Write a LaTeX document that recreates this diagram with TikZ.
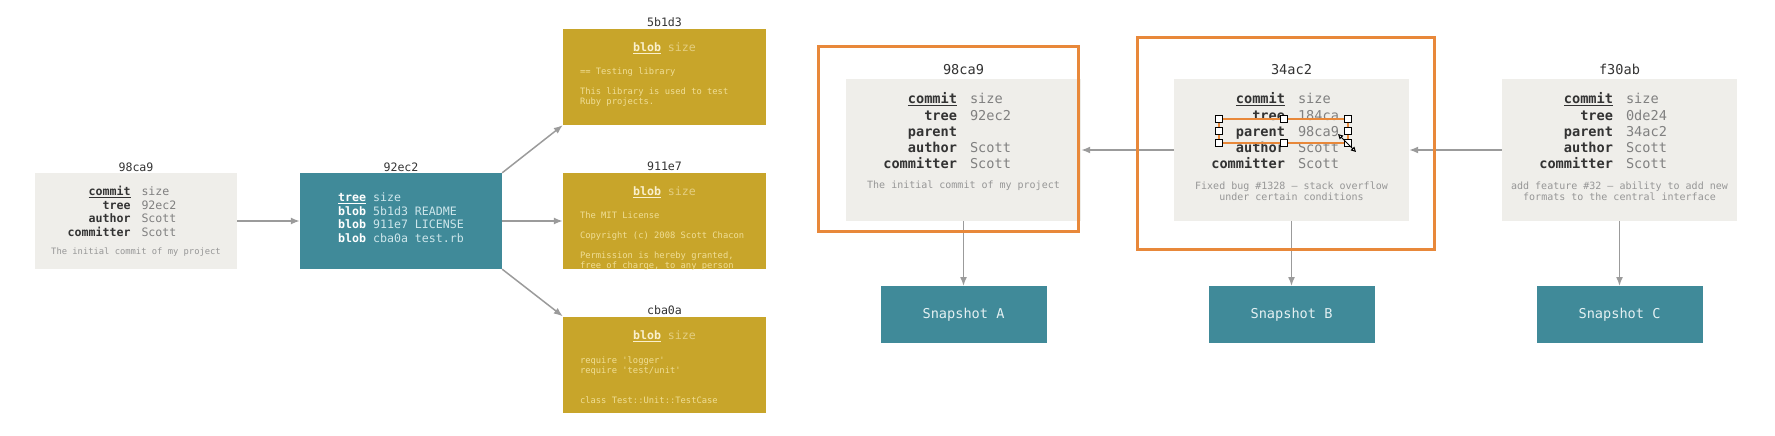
\documentclass[tikz,border=0pt]{standalone}
\usepackage{fontspec}
\usepackage{xcolor}
\usepackage{tikz}
\usetikzlibrary{
    calc,
    arrows.meta,
    positioning
}
\newfontfamily\codefont{DejaVu Sans Mono}

\definecolor{commitgrey}{RGB}{239,238,234}
\definecolor{treeteal}{RGB}{64,138,153}
\definecolor{blobgold}{RGB}{200,165,42}
\definecolor{markorange}{RGB}{232,136,58}
\definecolor{keydark}{RGB}{51,51,51}
\definecolor{valgrey}{RGB}{128,128,128}
\definecolor{msggrey}{RGB}{150,150,150}
\definecolor{arrowgrey}{RGB}{155,155,155}
\definecolor{blobhead}{RGB}{250,240,205}
\definecolor{blobsize}{RGB}{228,206,128}
\definecolor{blobtext}{RGB}{240,222,150}
\definecolor{treetext}{RGB}{205,230,235}
\definecolor{snaptext}{RGB}{228,240,242}

\newcommand{\fsz}[2]{\fontsize{#1}{#2}\selectfont}
\newlength\kvw
\newlength\kvsep
% one key / value line of a commit box
\newcommand{\kv}[2]{\makebox[\kvw][r]{\textbf{\color{keydark}#1}}\hspace{\kvsep}\makebox[\kvw][l]{\color{valgrey}#2}}

\tikzset{
    commitbox/.style={fill=commitgrey, inner sep=0pt, minimum width=235pt, minimum height=142pt},
    smallbox/.style={inner sep=0pt, minimum width=202pt, minimum height=96pt},
    snapbox/.style={fill=treeteal, inner sep=0pt, minimum width=166pt, minimum height=57pt,
        text=snaptext, font=\codefont\fsz{13.6}{16}},
    hashbig/.style={font=\codefont\fsz{13.6}{16}, text=keydark, inner sep=0pt},
    hashsmall/.style={font=\codefont\fsz{11.6}{14}, text=keydark, inner sep=0pt},
    % multi-line nodes sit on the baseline of their last line
    fieldsbig/.style={font={\codefont\fsz{13.6}{16.25}\setlength\kvw{100pt}\setlength\kvsep{13pt}},
        align=center, anchor=base, inner sep=0pt},
    fieldssmall/.style={font={\codefont\fsz{11.6}{13.7}\setlength\kvw{80pt}\setlength\kvsep{11pt}},
        align=center, anchor=base, inner sep=0pt},
    msgbig/.style={font=\codefont\fsz{10}{11}, text=msggrey, align=center, anchor=base, inner sep=0pt},
    msgsmall/.style={font=\codefont\fsz{8.8}{10}, text=msggrey, align=center, anchor=base, inner sep=0pt},
    blobtop/.style={font=\codefont\fsz{11.6}{14}, anchor=base, inner sep=0pt},
    blobbody/.style={font=\codefont\fsz{8.8}{10}, text=blobtext, align=left, anchor=base west, inner sep=0pt},
    link/.style={draw=arrowgrey, line width=1.5pt, -{Latex[length=9pt,width=7pt]}},
    markframe/.style={draw=markorange, line width=3pt},
    handle/.style={draw=black, fill=white, line width=0.8pt}
}

\begin{document}
\begin{tikzpicture}[x=1pt, y=-1pt]
    \useasboundingbox (0,0) rectangle (1775,436);

    % left half: commit, tree and blobs
    \coordinate (lcpos) at (136,221);
    \coordinate (trpos) at (401,221);
    \coordinate (b1pos) at (664.5,77);
    \coordinate (b2pos) at (664.5,221);
    \coordinate (b3pos) at (664.5,364.5);

    \node[smallbox, fill=commitgrey] (lc) at (lcpos) {};
    \node[hashsmall] (lctitle) at ([yshift=6pt]lc.north) {98ca9};
    \node[fieldssmall] (lcfields) at ([yshift=-63.6pt]lc.north)
        {\kv{\underline{commit}}{size}\\\kv{tree}{92ec2}\\\kv{author}{Scott}\\\kv{committer}{Scott}};
    \node[msgsmall] (lcmsg) at ([yshift=-82pt]lc.north) {The initial commit of my project};

    \node[smallbox, fill=treeteal] (tr) at (trpos) {};
    \node[hashsmall] (trtitle) at ([yshift=6pt]tr.north) {92ec2};
    \node[font=\codefont\fsz{11.6}{13.7}, text=treetext, align=left, anchor=base, inner sep=0pt] (trfields)
        at ([yshift=-69.6pt]tr.north)
        {\textbf{\color{white}\underline{tree}} size\\
         \textbf{\color{white}blob} 5b1d3 README\\
         \textbf{\color{white}blob} 911e7 LICENSE\\
         \textbf{\color{white}blob} cba0a test.rb};

    \foreach \b/\h in {b1/5b1d3, b2/911e7, b3/cba0a} {
        \node[smallbox, fill=blobgold, minimum width=203pt] (\b) at (\b pos) {};
        \node[hashsmall] (\b title) at ([yshift=6.5pt]\b.north) {\h};
        \node[blobtop] (\b head) at ([yshift=-23pt]\b.north)
            {\textbf{\color{blobhead}\underline{blob}} {\color{blobsize}size}};
    }
    \node[blobbody] (b1body) at ([xshift=17pt, yshift=-76pt]b1.north west)
        {== Testing library\\[10pt]This library is used to test\\Ruby projects.};
    \begin{scope}
        \clip (b2.south west) rectangle (b2.north east);
        \node[blobbody] (b2body) at ([xshift=17pt, yshift=-96pt]b2.north west)
            {The MIT License\\[10pt]Copyright (c) 2008 Scott Chacon\\[10pt]Permission is hereby granted,\\free of charge, to any person};
    \end{scope}
    \node[blobbody] (b3body) at ([xshift=17pt, yshift=-87pt]b3.north west)
        {require 'logger'\\require 'test/unit'\\[20pt]class Test::Unit::TestCase};

    \draw[link] (lc) -- (tr);
    \draw[link] (tr.north east) -- (b1.south west);
    \draw[link] (tr) -- (b2);
    \draw[link] (tr.south east) -- (b3.north west);

    % right half: three commits and their snapshots
    \node[commitbox] (c98) at (963.5,150) {};
    \node[commitbox] (c34) at (1291.5,150) {};
    \node[commitbox] (cf3) at (1619.5,150) {};
    \foreach \c/\h in {c98/98ca9, c34/34ac2, cf3/f30ab}
        \node[hashbig] (\c title) at ([yshift=9pt]\c.north) {\h};

    \node[fieldsbig] (c98fields) at ([yshift=-90pt]c98.north)
        {\kv{\underline{commit}}{size}\\\kv{tree}{92ec2}\\\kv{parent}{}\\\kv{author}{Scott}\\\kv{committer}{Scott}};
    \node[msgbig] (c98msg) at ([yshift=-109.5pt]c98.north) {The initial commit of my project};

    \node[fieldsbig] (c34fields) at ([yshift=-90pt]c34.north)
        {\kv{\underline{commit}}{size}\\\kv{tree}{184ca}\\\kv{parent}{98ca9}\\\kv{author}{Scott}\\\kv{committer}{Scott}};
    \node[msgbig] (c34msg) at ([yshift=-121.5pt]c34.north)
        {Fixed bug \#1328 – stack overflow\\under certain conditions};

    \node[fieldsbig] (cf3fields) at ([yshift=-90pt]cf3.north)
        {\kv{\underline{commit}}{size}\\\kv{tree}{0de24}\\\kv{parent}{34ac2}\\\kv{author}{Scott}\\\kv{committer}{Scott}};
    \node[msgbig] (cf3msg) at ([yshift=-121.5pt]cf3.north)
        {add feature \#32 – ability to add new\\formats to the central interface};

    \draw[link] (cf3) -- (c34);
    \draw[link] (c34) -- (c98);

    \foreach \c/\s in {c98/A, c34/B, cf3/C} {
        \node[snapbox] (snap\s) at ($(\c.south)+(0,93.5)$) {Snapshot \s};
        \draw[link] (\c) -- (snap\s);
    }

    % orange frames round the first two commits
    \draw[markframe] (818,47) rectangle (1078,231);
    \draw[markframe] (1137,38) rectangle (1434,249);

    % selection marker on the parent line
    \draw[markorange, line width=2.5pt] (1219,119) rectangle (1348,143);
    \foreach \hx/\hy in {1219/119, 1219/131, 1219/143, 1284/119, 1284/143, 1348/119, 1348/131, 1348/143}
        \draw[handle] (\hx-3.5,\hy-3.5) rectangle ++(7,7);
    \draw[black, line width=1pt, {Triangle[open,length=5pt,width=5pt]}-{Triangle[open,length=5pt,width=5pt]}]
        (1338,134) -- (1356,152);
\end{tikzpicture}
\end{document}
